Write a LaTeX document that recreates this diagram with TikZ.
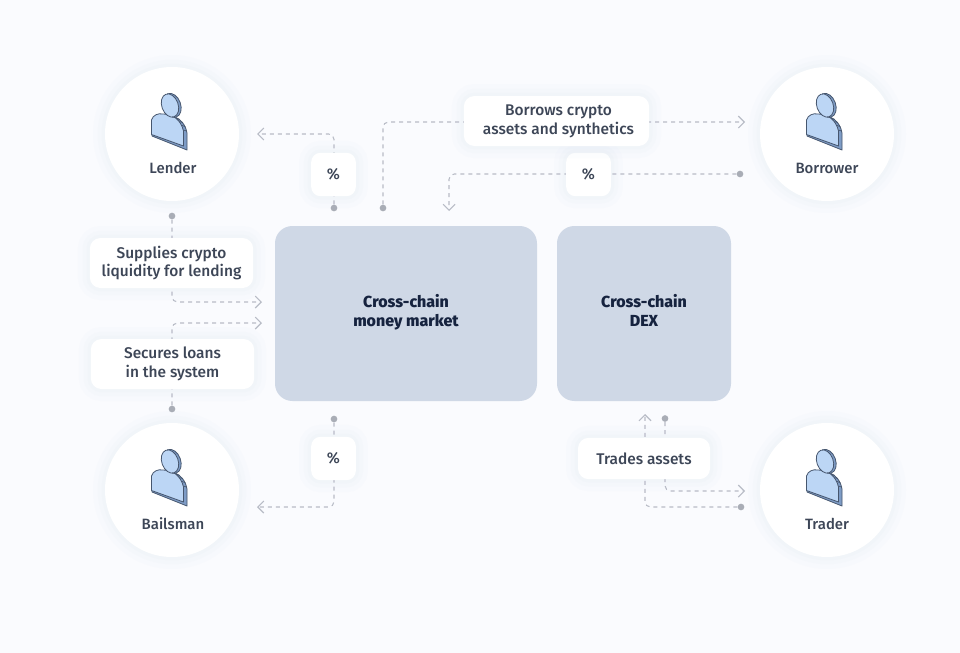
\documentclass[tikz,border=0pt]{standalone}
\usepackage{fontspec}
\setmainfont{Fira Sans Medium}[BoldFont={Fira Sans ExtraBold}]
\usetikzlibrary{arrows.meta,calc}
\definecolor{bgc}{HTML}{FAFBFE}
\definecolor{blockc}{HTML}{CFD8E6}
\definecolor{linec}{HTML}{B8BCC6}
\definecolor{dotc}{HTML}{A9ADB6}
\definecolor{labelc}{HTML}{3D4657}
\definecolor{blockt}{HTML}{16233F}
\definecolor{shadowc}{HTML}{B8C6E0}
\definecolor{iconf}{HTML}{BCD6F5}
\definecolor{icons}{HTML}{7E9CC6}
\definecolor{icond}{HTML}{46566E}
\newcommand\blocklines[2]{\raisebox{1.9pt}{\begin{tabular}{@{}c@{}}#1\\#2\end{tabular}}}
\tikzset{
 softshadow/.style={
  preaction={draw=shadowc,draw opacity=.03,line width=18pt,fill=none},
  preaction={draw=shadowc,draw opacity=.035,line width=11pt,fill=none},
  preaction={draw=shadowc,draw opacity=.04,line width=5pt,fill=none}},
 personc/.style={circle,fill=white,softshadow,minimum size=100.5pt,inner sep=0pt},
 blockn/.style={rectangle,rounded corners=13pt,fill=blockc,text=blockt,align=center,inner sep=0pt,font=\fontsize{12}{14.2}\selectfont\bfseries},
 lab/.style={rectangle,rounded corners=8pt,fill=white,softshadow,text=labelc,align=center,inner sep=0pt,font=\fontsize{11.6}{14.2}\selectfont},
 pct/.style={lab,rounded corners=7pt,minimum width=33.5pt,minimum height=32.5pt},
 ptext/.style={text=labelc,font=\fontsize{11.2}{13}\selectfont,inner sep=0pt},
 dotn/.style={circle,fill=dotc,minimum size=5pt,inner sep=0pt},
 conn/.style={draw=linec,line width=.8pt,dash pattern=on 3pt off 3pt,rounded corners=4pt},
 tipped/.style={conn,-{Straight Barb[length=4.5pt,width=9pt,line width=.8pt]}},
 personpic/.pic={
  % extruded body edge
  \draw[icond,fill=icons,line width=.6pt,line join=round] (-20,11) -- (-20,-4) .. controls (-18,-9) and (-13,-11) .. (-8,-10)
     .. controls (4,-10) and (13,-4) .. (15,8) -- (15,25) -- cycle;
  % front of the body
  \draw[icond,fill=iconf,line width=.6pt,line join=round] (-20.5,9.5) -- (-20.5,-5) .. controls (-19,-10) and (-14,-12) .. (-9,-11)
     .. controls (1,-11) and (9,-5) .. (11.5,6) -- (11.5,21) -- cycle;
  % teeth on the edge of the body
  \foreach \tx/\ty in {4/-7,7.5/-3.5,10/0.5,11.5/5}
   {\draw[icond,line width=.5pt] (\tx,\ty) -- ++(3.5,1.2);}
  % head
  \begin{scope}[shift={(-2,-19.5)},rotate=20]
   \draw[icond,fill=icons,line width=.6pt] (2,.6) ellipse [x radius=8.6,y radius=12.4];
   \draw[icond,fill=iconf,line width=.6pt] (0,0) ellipse [x radius=8.2,y radius=12];
  \end{scope}
 }
}
\begin{document}
\begin{tikzpicture}[x=.75pt,y=-.75pt]
\useasboundingbox (0,0) rectangle (960,653);
\fill[bgc] (0,0) rectangle (960,653);
% person circles
\node[personc] (lender) at (172,134) {};
\node[personc] (borrower) at (827,134) {};
\node[personc] (bailsman) at (172,490) {};
\node[personc] (trader) at (827,490) {};
\pic at (172,125) {personpic};
\pic at (827,125) {personpic};
\pic at (172,481) {personpic};
\pic at (827,481) {personpic};
\node[ptext] (lendert) at (173,168) {Lender};
\node[ptext] (borrowert) at (827,168) {Borrower};
\node[ptext] (bailsmant) at (173,524) {Bailsman};
\node[ptext] (tradert) at (827,524) {Trader};
% blocks
\node[blockn,minimum width=196.5pt,minimum height=131.25pt] (mm) at (406,313.5) {\blocklines{Cross-chain}{money market}};
\node[blockn,minimum width=130.5pt,minimum height=131.25pt] (dex) at (644,313.5) {\blocklines{Cross-chain}{DEX}};
% dots and ends
\node[dotn] (d1) at (334,208) {};
\node[dotn] (d2) at (172,216) {};
\node[dotn] (d3) at (172,409) {};
\node[dotn] (d4) at (383,208) {};
\node[dotn] (d5) at (740,174) {};
\node[dotn] (d6) at (334,419) {};
\node[dotn] (d7) at (741,507) {};
\node[dotn] (d8) at (665,418.5) {};
\coordinate (a1) at (257,134);
\coordinate (a2) at (262,302);
\coordinate (a3) at (262,323);
\coordinate (a4) at (745,122);
\coordinate (a5) at (449,211);
\coordinate (a6) at (257,507);
\coordinate (a7) at (645,414);
\coordinate (a8) at (745,491);
% connectors
\draw[tipped] (d1) |- (a1);
\draw[tipped] (d2) |- (a2);
\draw[tipped] (d3) |- (a3);
\draw[tipped] (d4) |- (a4);
\draw[tipped] (d5) -| (a5);
\draw[tipped] (d6) |- (a6);
\draw[tipped] (d7) -| (a7);
\draw[tipped] (d8) |- (a8);
% labels
\node[pct] (p1) at (333.5,174.5) {\%};
\node[pct] (p2) at (333.5,458.5) {\%};
\node[pct] (p3) at (588.5,174.5) {\%};
\node[lab,minimum width=122.5pt,minimum height=37.5pt] (supplies) at (171.5,263) {Supplies crypto\\liquidity for lending};
\node[lab,minimum width=122.5pt,minimum height=37.5pt] (secures) at (172.5,364) {Secures loans\\in the system};
\node[lab,minimum width=139pt,minimum height=37.5pt] (borrows) at (556.5,121) {\hspace*{3pt}Borrows crypto\\\hspace*{3pt}assets and synthetics};
\node[lab,minimum width=99pt,minimum height=31pt] (trades) at (644,458.5) {Trades assets};
\end{tikzpicture}
\end{document}
